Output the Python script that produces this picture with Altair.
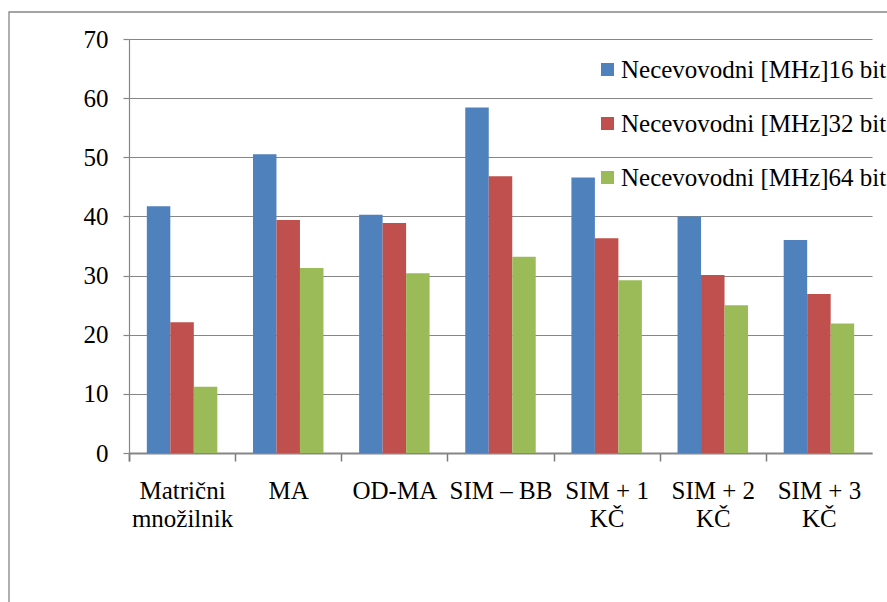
import altair as alt
import pandas as pd

# Categories (x axis) – "\n" marks a line break in the axis label
categories = [
    "Matrični\nmnožilnik",
    "MA",
    "OD-MA",
    "SIM – BB",
    "SIM + 1\nKČ",
    "SIM + 2\nKČ",
    "SIM + 3\nKČ",
]
series = [
    "Necevovodni [MHz]16 bit",
    "Necevovodni [MHz]32 bit",
    "Necevovodni [MHz]64 bit",
]
mhz_16 = [41.7, 50.5, 40.3, 58.4, 46.6, 40.0, 36.0]
mhz_32 = [22.1, 39.4, 38.9, 46.8, 36.3, 30.1, 26.9]
mhz_64 = [11.2, 31.3, 30.4, 33.2, 29.2, 25.0, 21.9]
y_ticks = [0, 10, 20, 30, 40, 50, 60, 70]
colors = ["#4F81BD", "#C0504D", "#9BBB59"]

rows = []
for name, vals in zip(series, [mhz_16, mhz_32, mhz_64]):
    for cat, v in zip(categories, vals):
        rows.append({"kategorija": cat, "serija": name, "vrednost": v})
df = pd.DataFrame(rows)

FONT = "Liberation Serif"
GRAY = "#868686"
FS = 25
PAD_INNER = 0.336
PLOT_W = 743
# category separators sit halfway into the gap between bar groups
step = PLOT_W / len(categories)
sep_shift = step * PAD_INNER / 2

bars = alt.Chart(df).mark_bar().encode(
    x=alt.X(
        "kategorija:N",
        sort=categories,
        title=None,
        scale=alt.Scale(paddingInner=PAD_INNER, paddingOuter=PAD_INNER / 2),
        axis=alt.Axis(
            labelAngle=0,
            labelExpr="split(datum.label, '\\n')",
            labelFont=FONT,
            labelFontSize=FS,
            labelColor="#000000",
            labelLineHeight=28,
            labelPadding=17,
            labelLimit=0,
            labelOffset=sep_shift,
            bandPosition=0,
            tickExtra=True,
            tickOffset=-sep_shift,
            ticks=True,
            tickSize=8,
            tickWidth=1.5,
            tickColor="#7a7a7a",
            domainColor=GRAY,
            domainWidth=2,
            grid=False,
        ),
    ),
    xOffset=alt.XOffset("serija:N", sort=series, scale=alt.Scale(paddingInner=0, paddingOuter=0)),
    y=alt.Y(
        "vrednost:Q",
        title=None,
        scale=alt.Scale(domain=[0, 70], nice=False),
        axis=alt.Axis(
            values=y_ticks,
            labelFont=FONT,
            labelFontSize=FS,
            labelColor="#000000",
            labelPadding=15,
            tickSize=6,
            tickWidth=1.2,
            tickColor=GRAY,
            domainColor=GRAY,
            domainWidth=1.2,
            gridColor=GRAY,
            gridWidth=1.2,
        ),
    ),
    color=alt.Color(
        "serija:N",
        sort=series,
        scale=alt.Scale(domain=series, range=colors),
        legend=alt.Legend(
            orient="none",
            legendX=466,
            legendY=18,
            title=None,
            padding=0,
            symbolType="square",
            symbolSize=169,
            symbolStrokeWidth=0,
            labelFont=FONT,
            labelFontSize=FS,
            labelColor="#000000",
            labelLimit=0,
            labelOffset=1,
            rowPadding=28,
        ),
    ),
)

# outer frame of the chart area
frame = alt.Chart(pd.DataFrame({"k": [0]})).mark_rect(
    filled=False, stroke=GRAY, strokeWidth=1.3
).encode(
    x=alt.value(-120), x2=alt.value(800), y=alt.value(-27), y2=alt.value(620)
)

chart = alt.layer(bars, frame).properties(
    width=PLOT_W,
    height=414,
    padding={"left": 129, "top": 39, "right": 15, "bottom": 149},
    autosize=alt.AutoSizeParams(type="none"),
    background="#ffffff",
).configure_view(stroke=None)

chart.save("out.html", embed_options={"renderer": "svg", "actions": False})
